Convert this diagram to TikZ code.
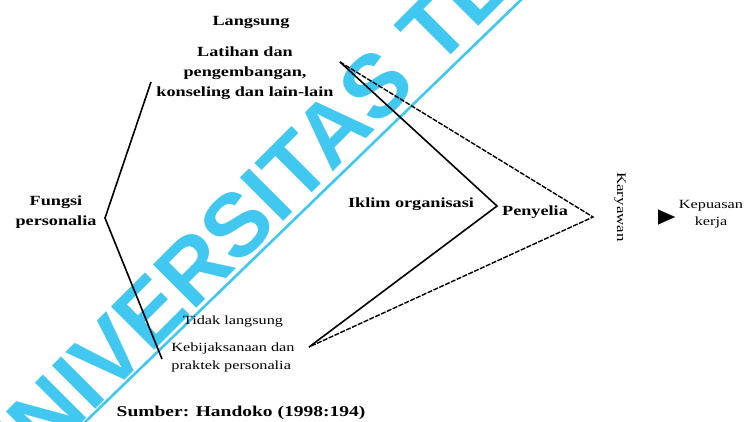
\documentclass[tikz,border=0pt]{standalone}
\usepackage{fontspec}
\setmainfont{Liberation Serif}
\newfontfamily\dfont[FakeStretch=1.3]{Liberation Serif}
\newfontfamily\wmfont{Liberation Sans}
\usetikzlibrary{arrows.meta}
\definecolor{wmcyan}{RGB}{64,200,240}
\begin{document}
\begin{tikzpicture}[x=1pt,y=-1pt,
  lbl/.style={inner sep=0pt, font=\dfont\bfseries\fontsize{14}{20}\selectfont, align=center},
  lbls/.style={inner sep=0pt, font=\dfont\fontsize{12.5}{18}\selectfont, align=left},
  ln/.style={line width=1.6pt},
  dln/.style={line width=1.4pt, dash pattern=on 5pt off 1.4pt},
  wm/.style={inner sep=0pt, text=wmcyan, font=\wmfont\bfseries\fontsize{89}{89}\selectfont},
  tip/.style={-{Triangle[length=17pt,width=15pt]}, line width=0.1pt}
]
\useasboundingbox (0,0) rectangle (744,421);
\fill[white] (0,0) rectangle (744,421);

% watermark
\node[wm, rotate=45, anchor=base west] (wmtext) at (0,505) {UNIVERSITAS TE};
\coordinate (wl1) at (83,424);
\coordinate (wl2) at (524,-3);
\draw[wmcyan, line width=2.6pt] (wl1) -- (wl2);

% texts
\node[lbl] (lang) at (251,22) {Langsung};
\node[lbl] (latihan) at (245,73) {Latihan dan\\pengembangan,\\konseling dan lain-lain};
\node[lbl] (fungsi) at (56,212) {Fungsi\\personalia};
\node[lbl] (iklim) at (411,204) {Iklim organisasi};
\node[lbl] (penyelia) at (535,212) {Penyelia};
\node[lbls, rotate=-90, font=\dfont\fontsize{13}{16}\selectfont] (kar) at (620,207) {Karyawan};
\node[lbls, align=center, font=\dfont\fontsize{12.5}{17}\selectfont] (kep) at (711,214) {Kepuasan\\kerja};
\node[lbls] (tidak) at (233,322) {Tidak langsung};
\node[lbls] (kebij) at (233,357) {Kebijaksanaan dan\\praktek personalia};
\node[lbl, font=\dfont\bfseries\fontsize{15}{18}\selectfont] (sumber) at (241,413) {Sumber: Handoko (1998:194)};

% lines
\coordinate (apex) at (340,62);
\coordinate (iv) at (497,206);
\coordinate (pv) at (593,217);
\coordinate (lv) at (309,347);
\coordinate (ft) at (151,82);
\coordinate (fm) at (105,218);
\coordinate (fb) at (162,359);
\draw[ln] (ft) -- (fm) -- (fb);
\draw[ln] (apex) -- (iv) -- (lv);
\draw[dln] (apex) -- (pv) -- (lv);

% arrow head
\coordinate (arS) at (658,217);
\coordinate (arE) at (675,217);
\draw[tip] (arS) -- (arE);
\end{tikzpicture}
\end{document}
